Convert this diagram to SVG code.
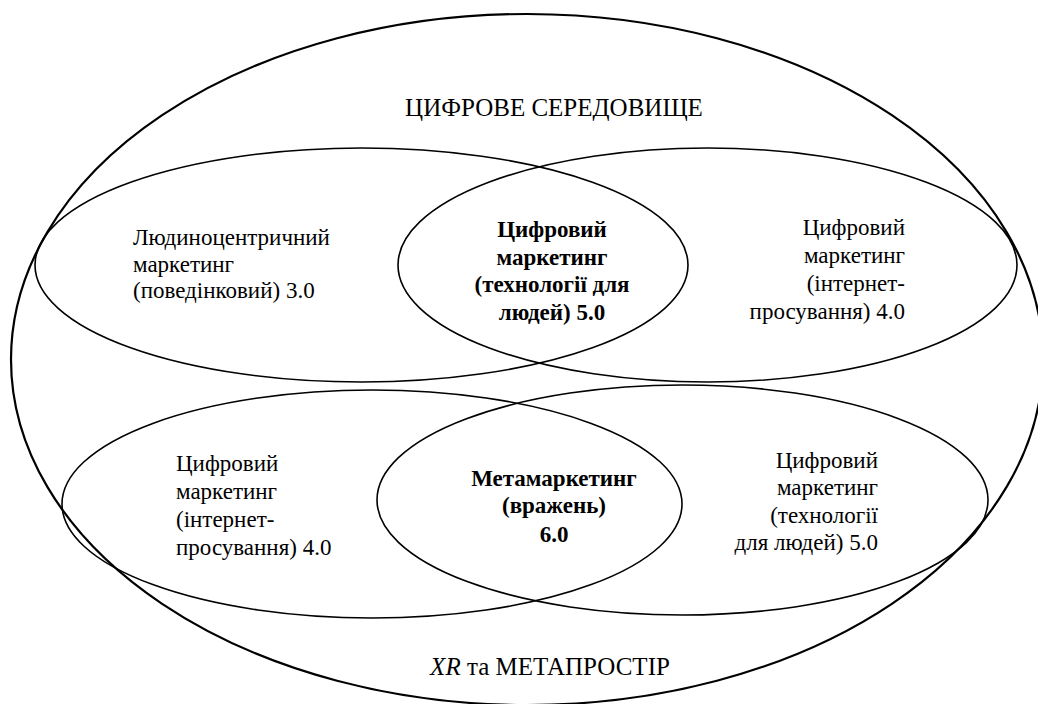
<svg xmlns="http://www.w3.org/2000/svg" width="1038" height="704" viewBox="0 0 1038 704" font-family="Liberation Serif, Times New Roman, DejaVu Serif, serif" font-size="23">
<style>
.e{fill:none;stroke:#000;stroke-width:1.6}
.o{fill:none;stroke:#000;stroke-width:2.2}
.b{font-weight:bold}
.big{font-size:25px}
</style>
<rect width="1038" height="704" fill="#fff"/>
<g id="outer">
<ellipse class="o" cx="527" cy="359.5" rx="516" ry="345.5"/>
<text class="big" x="554" y="116" text-anchor="middle">ЦИФРОВЕ СЕРЕДОВИЩЕ</text>
<text class="big" x="550" y="675" text-anchor="middle"><tspan font-style="italic">XR</tspan> та МЕТАПРОСТІР</text>
</g>
<g id="top-left">
<ellipse class="e" cx="361.5" cy="265" rx="326.5" ry="117"/>
<text x="133" y="245">Людиноцентричний</text>
<text x="133" y="272">маркетинг</text>
<text x="133" y="298">(поведінковий) 3.0</text>
</g>
<g id="top-right">
<ellipse class="e" cx="707.5" cy="265" rx="309.5" ry="117"/>
<text x="905" y="235" text-anchor="end">Цифровий</text>
<text x="905" y="263" text-anchor="end">маркетинг</text>
<text x="905" y="291" text-anchor="end">(інтернет-</text>
<text x="905" y="319" text-anchor="end">просування) 4.0</text>
</g>
<g id="top-center">
<text class="b" x="552" y="237" text-anchor="middle">Цифровий</text>
<text class="b" x="552" y="265" text-anchor="middle">маркетинг</text>
<text class="b" x="552" y="292" text-anchor="middle">(технології для</text>
<text class="b" x="552" y="320" text-anchor="middle">людей) 5.0</text>
</g>
<g id="bottom-left">
<ellipse class="e" cx="372" cy="504" rx="310" ry="114"/>
<text x="176" y="471">Цифровий</text>
<text x="176" y="499">маркетинг</text>
<text x="176" y="527">(інтернет-</text>
<text x="176" y="555">просування) 4.0</text>
</g>
<g id="bottom-right">
<ellipse class="e" cx="682.5" cy="500" rx="305.5" ry="115"/>
<text x="878" y="468" text-anchor="end">Цифровий</text>
<text x="878" y="495" text-anchor="end">маркетинг</text>
<text x="878" y="523" text-anchor="end">(технології</text>
<text x="878" y="550" text-anchor="end">для людей) 5.0</text>
</g>
<g id="bottom-center">
<text class="b" x="554" y="486" text-anchor="middle">Метамаркетинг</text>
<text class="b" x="554" y="513" text-anchor="middle">(вражень)</text>
<text class="b" x="554" y="542" text-anchor="middle">6.0</text>
</g>
<g id="connectors"></g>
</svg>
